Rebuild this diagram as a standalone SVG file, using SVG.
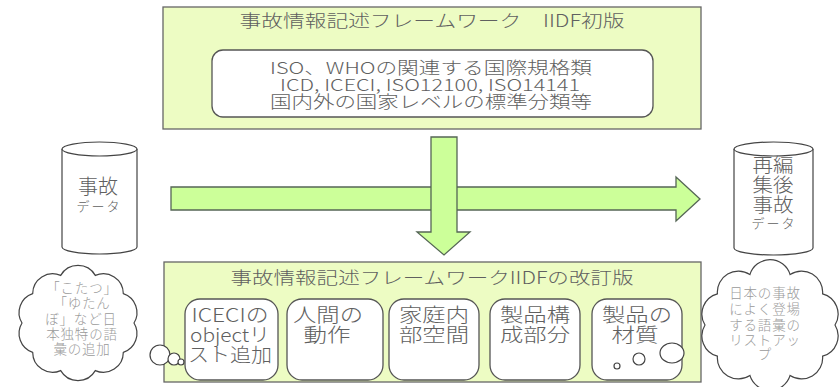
<svg xmlns="http://www.w3.org/2000/svg" width="840" height="387" viewBox="0 0 840 387">
<style>
.frame{fill:#EDFCC3;stroke:#666;stroke-width:1.3}
.inner{fill:#fff;stroke:#555;stroke-width:1.3}
.arrow{fill:#CCFF99;stroke:#556655;stroke-width:1.3}
.shape{fill:#fff;stroke:#444;stroke-width:1.2}
.t{font-family:"Noto Sans CJK JP","Liberation Sans",sans-serif;fill:#606060;text-anchor:middle;font-weight:300}
.cl{font-family:"Noto Sans CJK JP","Liberation Sans",sans-serif;fill:#9a9a9a;text-anchor:middle;font-size:13.5px;font-weight:300;letter-spacing:0.8px}
</style>
<rect width="840" height="387" fill="#fff"/>

<g id="top-frame">
<rect class="frame" x="163" y="7" width="538" height="122"/>
<text class="t" x="432" y="27" font-size="17" textLength="385" lengthAdjust="spacingAndGlyphs">事故情報記述フレームワーク　IIDF初版</text>
<rect class="inner" x="212" y="50" width="441" height="67" rx="11"/>
<text class="t" x="431" y="74" font-size="16.5" textLength="322" lengthAdjust="spacingAndGlyphs">ISO、WHOの関連する国際規格類</text>
<text class="t" x="430" y="91" font-size="16.5" textLength="300" lengthAdjust="spacingAndGlyphs">ICD, ICECI, ISO12100, ISO14141</text>
<text class="t" x="431" y="108" font-size="16.5" textLength="322" lengthAdjust="spacingAndGlyphs">国内外の国家レベルの標準分類等</text>
</g>

<g id="accident-data">
<path class="shape" d="M62,149 A37.5,7 0 0 1 137,149 L137,247 A37.5,7 0 0 1 62,247 Z"/>
<path class="shape" fill="none" d="M62,149 A37.5,7 0 0 0 137,149"/>
<text class="t" x="98" y="194" font-size="20">事故</text>
<text class="t" x="98" y="211" font-size="13" textLength="43" lengthAdjust="spacing">データ</text>
</g>

<g id="reedited-data">
<path class="shape" d="M734,149 A39.5,7 0 0 1 813,149 L813,248 A39.5,7 0 0 1 734,248 Z"/>
<path class="shape" fill="none" d="M734,149 A39.5,7 0 0 0 813,149"/>
<text class="t" x="773" y="172" font-size="19" textLength="41" lengthAdjust="spacingAndGlyphs">再編</text>
<text class="t" x="773" y="192" font-size="19" textLength="41" lengthAdjust="spacingAndGlyphs">集後</text>
<text class="t" x="773" y="212" font-size="19" textLength="41" lengthAdjust="spacingAndGlyphs">事故</text>
<text class="t" x="773" y="228" font-size="13" textLength="43" lengthAdjust="spacing">データ</text>
</g>

<g id="connectors">
<polygon class="arrow" points="171,187 676,187 676,177 700,199 676,221 676,210 171,210"/>
<polygon class="arrow" points="431,137 457,137 457,232 470,232 444,255 417,232 431,232"/>
</g>

<g id="bottom-frame">
<rect class="frame" x="164" y="262" width="537" height="120"/>
<text class="t" x="432" y="284" font-size="17" textLength="403" lengthAdjust="spacingAndGlyphs">事故情報記述フレームワークIIDFの改訂版</text>
</g>

<g id="box-icecl">
<rect class="inner" x="185" y="299" width="93" height="81" rx="15"/>
<text class="t" x="230" y="322" font-size="19" textLength="77" lengthAdjust="spacingAndGlyphs">ICECIの</text>
<text class="t" x="230" y="342" font-size="19" textLength="80" lengthAdjust="spacingAndGlyphs">objectリ</text>
<text class="t" x="230" y="362" font-size="19" textLength="84" lengthAdjust="spacingAndGlyphs">スト追加</text>
</g>
<g id="box-human">
<rect class="inner" x="287" y="299" width="96" height="81" rx="15"/>
<text class="t" x="328" y="322" font-size="19" textLength="70" lengthAdjust="spacingAndGlyphs">人間の</text>
<text class="t" x="327" y="342" font-size="19" textLength="47" lengthAdjust="spacingAndGlyphs">動作</text>
</g>
<g id="box-home">
<rect class="inner" x="389" y="299" width="90" height="81" rx="15"/>
<text class="t" x="434" y="322" font-size="19" textLength="70" lengthAdjust="spacingAndGlyphs">家庭内</text>
<text class="t" x="434" y="342" font-size="19" textLength="70" lengthAdjust="spacingAndGlyphs">部空間</text>
</g>
<g id="box-parts">
<rect class="inner" x="490" y="299" width="90" height="81" rx="15"/>
<text class="t" x="535" y="322" font-size="19" textLength="70" lengthAdjust="spacingAndGlyphs">製品構</text>
<text class="t" x="535" y="342" font-size="19" textLength="70" lengthAdjust="spacingAndGlyphs">成部分</text>
</g>
<g id="box-material">
<rect class="inner" x="592" y="299" width="90" height="81" rx="15"/>
<text class="t" x="637" y="322" font-size="19" textLength="70" lengthAdjust="spacingAndGlyphs">製品の</text>
<text class="t" x="635" y="342" font-size="19" textLength="47" lengthAdjust="spacingAndGlyphs">材質</text>
<circle class="shape" cx="617" cy="366" r="3"/>
<circle class="shape" cx="639" cy="359" r="6"/>
<ellipse class="shape" cx="672" cy="353" rx="12" ry="10"/>
</g>

<g id="cloud-left">
<path class="shape" d="M134,323 A20,20 0 0 1 123.3,352.4 A20,20 0 0 1 95.3,370.6 A20,20 0 0 1 60.7,370.6 A20,20 0 0 1 32.7,352.4 A20,20 0 0 1 22,323 A20,20 0 0 1 32.7,293.6 A20,20 0 0 1 60.7,275.4 A20,20 0 0 1 95.3,275.4 A20,20 0 0 1 123.3,293.6 A20,20 0 0 1 134,323 Z"/>
<ellipse class="shape" cx="160" cy="355" rx="10" ry="10"/>
<circle class="shape" cx="174" cy="359" r="6"/>
<circle class="shape" cx="181" cy="362" r="3"/>
<text class="cl" x="82" y="293">「こたつ」</text>
<text class="cl" x="82" y="308">「ゆたん</text>
<text class="cl" x="81" y="324">ぼ」など日</text>
<text class="cl" x="82" y="339">本独特の語</text>
<text class="cl" x="82" y="354">彙の追加</text>
</g>

<g id="cloud-right">
<path class="shape" d="M835,325 A21,21 0 0 1 822.6,356.2 A21,21 0 0 1 790.1,375.4 A21,21 0 0 1 749.9,375.4 A21,21 0 0 1 717.4,356.2 A21,21 0 0 1 705,325 A21,21 0 0 1 717.4,293.8 A21,21 0 0 1 749.9,274.6 A21,21 0 0 1 790.1,274.6 A21,21 0 0 1 822.6,293.8 A21,21 0 0 1 835,325 Z"/>
<text class="cl" x="765" y="298">日本の事故</text>
<text class="cl" x="765" y="314">によく登場</text>
<text class="cl" x="765" y="330">する語彙の</text>
<text class="cl" x="765" y="345">リストアッ</text>
<text class="cl" x="765" y="359">プ</text>
</g>
</svg>
